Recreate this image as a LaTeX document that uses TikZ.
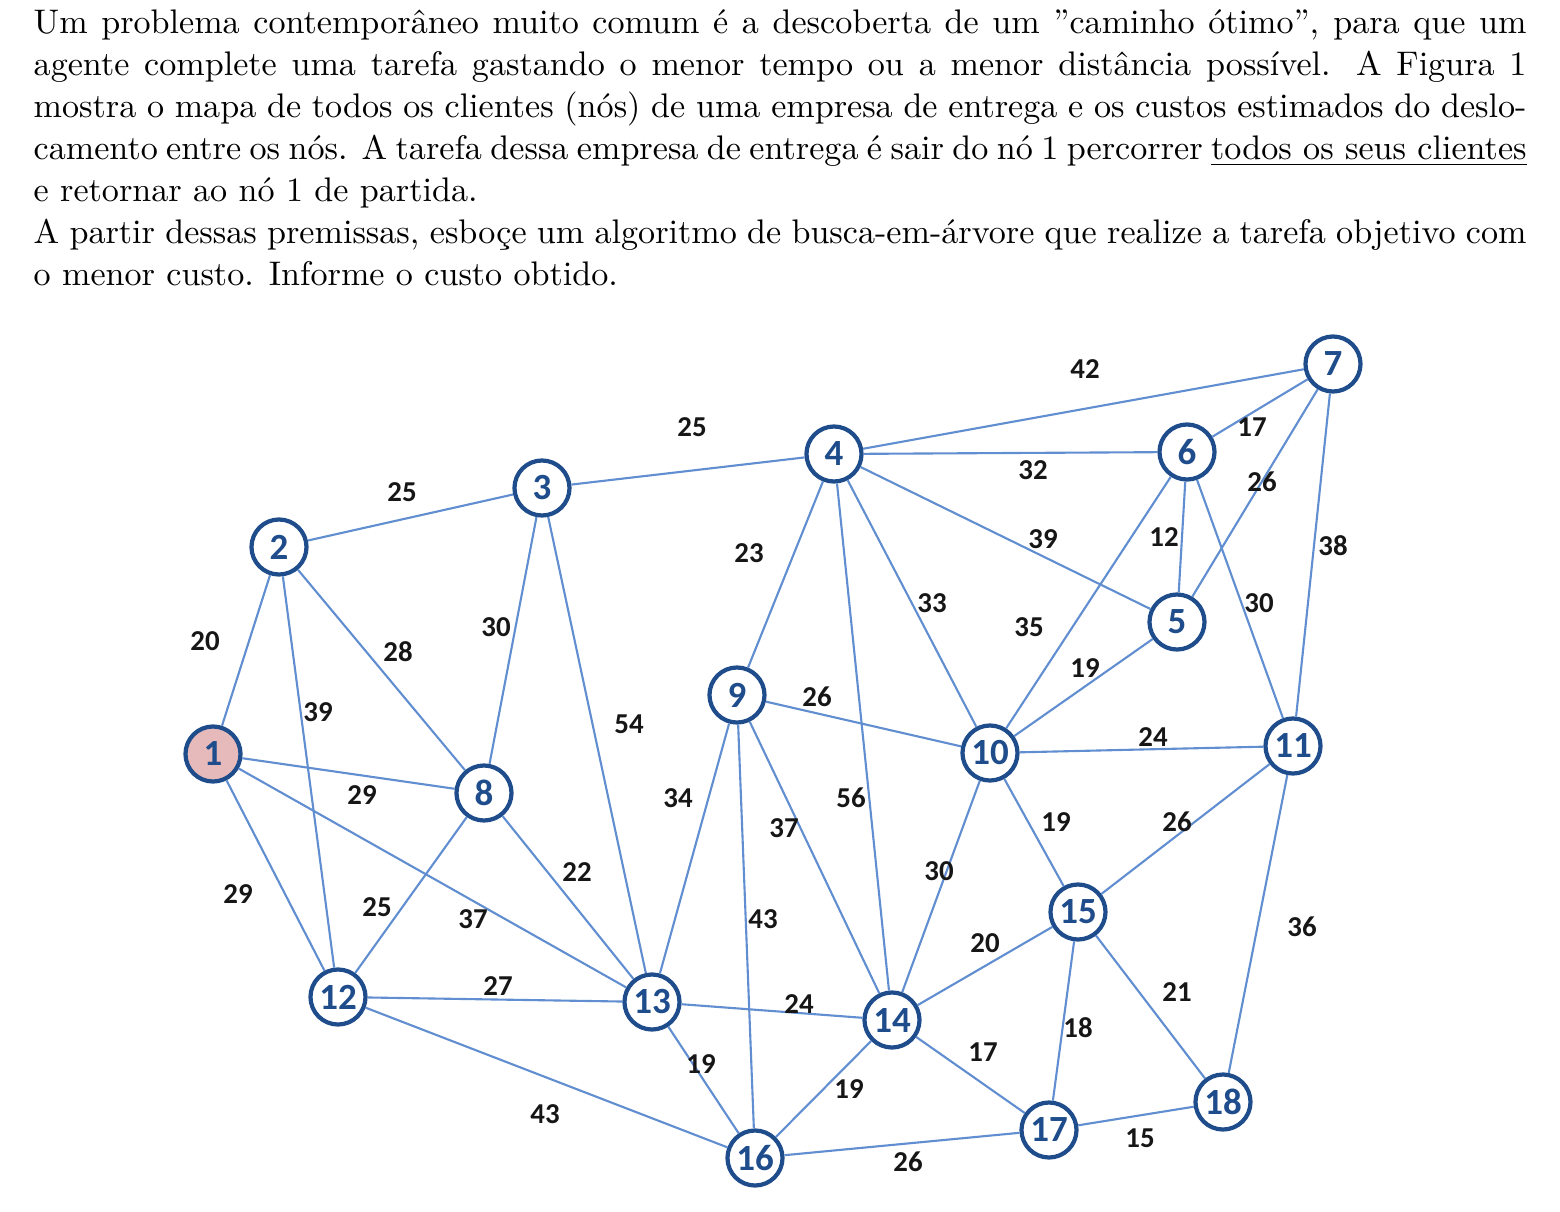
\documentclass[tikz,border=0pt]{standalone}
\usepackage{fontspec}
\newfontfamily\numfont{Carlito}
\usetikzlibrary{positioning}
\definecolor{noazul}{RGB}{31,77,140}
\definecolor{arestazul}{RGB}{96,142,208}
\definecolor{rosa}{RGB}{230,186,186}
\definecolor{pesopreto}{RGB}{22,22,22}

\begin{document}
\begin{tikzpicture}[x=0.01cm,y=-0.01cm,
	no/.style={circle,draw=noazul,line width=1.2pt,fill=white,minimum size=0.55cm,inner sep=0pt,
		text=noazul,font=\numfont\bfseries\fontsize{10.5}{12}\selectfont},
	aresta/.style={draw=arestazul,line width=0.6pt},
	peso/.style={text=pesopreto,inner sep=0pt,font=\numfont\bfseries\fontsize{8.2}{10}\selectfont}]
\useasboundingbox (0,0) rectangle (1560,1212);

% enunciado
	\node[anchor=base west,text width=14.92cm,align=justify,inner sep=0pt,
		font=\fontsize{9.7}{11.95}\selectfont] (enunciado) at (33,33)
		{\tolerance=9999
		Um problema contemporâneo muito comum é a descoberta de um ''caminho ótimo'', para que um\linebreak
		agente complete uma tarefa gastando o menor tempo ou a menor distância possível.  A Figura 1\linebreak
		mostra o mapa de todos os clientes (nós) de uma empresa de entrega e os custos estimados do deslo-\linebreak
		camento entre os nós.  A tarefa dessa empresa de entrega é sair do nó 1 percorrer \underline{todos os seus clientes}\linebreak
		e retornar ao nó 1 de partida.\par
		A partir dessas premissas, esboçe um algoritmo de busca-em-árvore que realize a tarefa objetivo com\linebreak
		o menor custo.  Informe o custo obtido.};

% nós (clientes)
	\node[no,fill=rosa] (n1) at (213,754) {1};
	\foreach \n/\x/\y in {2/279/547, 3/542/488, 4/834/454, 5/1177/622, 6/1187/452,
		7/1333/364, 8/484/793, 9/737/695, 10/990/753, 11/1293/746, 12/338/997,
		13/652/1002, 14/892/1020, 15/1078/912, 16/755/1158, 17/1049/1130, 18/1223/1102}
		\node[no] (n\n) at (\x,\y) {\n};

% arestas
	\foreach \a/\b in {1/2, 1/8, 1/12, 1/13, 2/3, 2/8, 2/12, 3/4, 3/8, 3/13,
		4/7, 4/6, 4/5, 4/9, 4/10, 4/14, 6/7, 5/7, 7/11, 6/5, 6/10, 6/11, 5/10,
		9/10, 9/13, 9/14, 9/16, 10/11, 10/14, 10/15, 11/15, 11/18, 8/12, 8/13,
		12/13, 12/16, 13/14, 13/16, 14/15, 14/16, 14/17, 15/17, 15/18, 16/17, 17/18}
		\draw[aresta] (n\a) -- (n\b);

% custos
	\foreach \x/\y/\c [count=\i] in {205/641/20, 362/795/29, 238/894/29, 473/919/37,
		402/492/25, 398/652/28, 318/712/39, 692/427/25, 496/627/30, 629/724/54,
		1085/369/42, 1033/470/32, 1043/539/39, 749/553/23, 932/603/33, 851/798/56,
		1252/427/17, 1262/482/26, 1333/546/38, 1164/537/12, 1029/627/35, 1259/603/30,
		1085/668/19, 817/697/26, 678/798/34, 784/828/37, 763/919/43, 1153/737/24,
		939/871/30, 1056/822/19, 1177/822/26, 1302/927/36, 377/907/25, 577/872/22,
		498/986/27, 545/1114/43, 799/1004/24, 701/1064/19, 985/943/20, 849/1089/19,
		983/1052/17, 1078/1028/18, 1177/992/21, 908/1162/26, 1140/1138/15}
		\node[peso] (c\i) at (\x,\y) {\c};
\end{tikzpicture}
\end{document}
